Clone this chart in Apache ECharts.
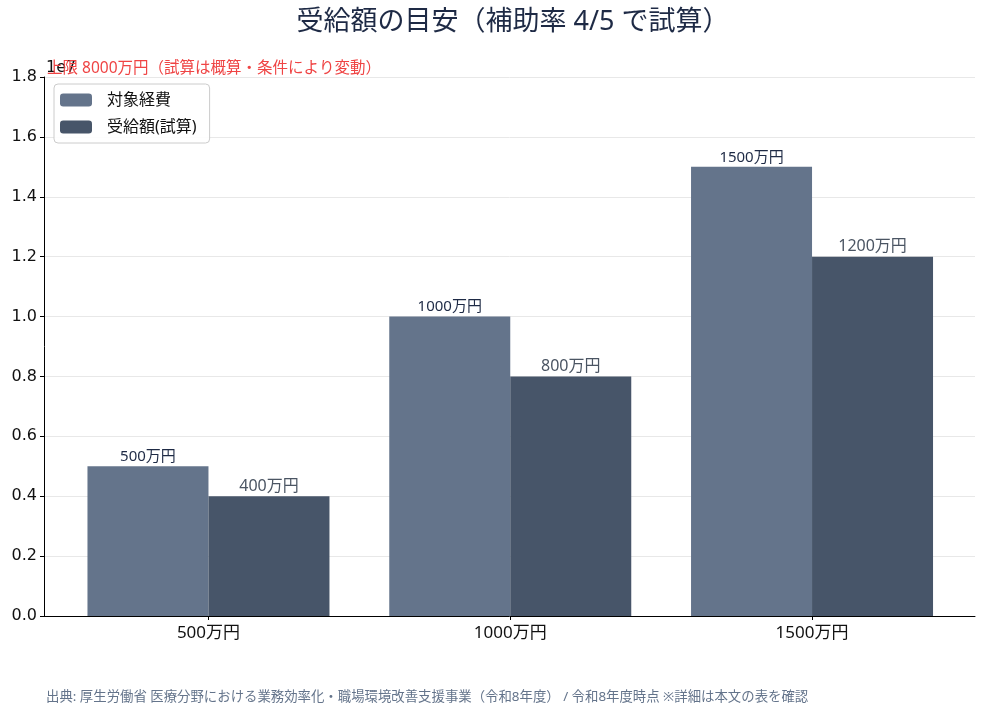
<!DOCTYPE html>
<html style="height: 100%">
<head>
    <meta charset="utf-8">
</head>
<body style="height: 100%; margin: 0">
<div id="container" style="width: 985px; height: 715px"></div>

<script type="text/javascript" src="https://cdn.jsdelivr.net/npm/echarts@6/dist/echarts.min.js"></script>

<script type="text/javascript">
    // data
    var categories = ['500万円', '1000万円', '1500万円'];
    var costValues = [5000000, 10000000, 15000000];      // 対象経費
    var grantValues = [4000000, 8000000, 12000000];      // 受給額(試算)
    var seriesNames = ['対象経費', '受給額(試算)'];

    var FONT = '"Noto Sans", "Noto Sans CJK JP", sans-serif';

    var dom = document.getElementById('container');
    var myChart = echarts.init(dom);

    function toPoints(vals) {
        return vals.map(function (v, i) { return [i, v]; });
    }
    function man(v) {
        return Math.round(v / 10000) + '万円';
    }

    var option = {
        backgroundColor: '#ffffff',
        animation: false,
        title: {
            text: '受給額の目安（補助率 4/5 で試算）',
            left: 508,
            textAlign: 'center',
            top: 4,
            textStyle: { fontFamily: FONT, fontSize: 27, fontWeight: 'normal', color: '#1e2a45' }
        },
        legend: {
            orient: 'vertical',
            left: 54,
            top: 84,
            data: seriesNames,
            itemWidth: 32,
            itemHeight: 13,
            itemGap: 11,
            padding: [8, 13, 8, 6],
            borderColor: '#cccccc',
            borderWidth: 1,
            borderRadius: 4,
            backgroundColor: 'rgba(255,255,255,0.9)',
            textStyle: { fontFamily: FONT, fontSize: 16, color: '#111111', padding: [0, 0, 0, 10] }
        },
        grid: { left: 44, right: 10, top: 77, bottom: 99 },
        xAxis: {
            type: 'value',
            min: -0.545,
            max: 2.54,
            splitLine: { show: false },
            axisLine: { show: true, onZero: false, lineStyle: { color: '#000000', width: 1 } },
            axisTick: { show: true, customValues: [0, 1, 2], length: 4, lineStyle: { color: '#000000' } },
            axisLabel: {
                customValues: [0, 1, 2],
                formatter: function (v) { return categories[Math.round(v)]; },
                fontFamily: FONT, fontSize: 17, color: '#111111', margin: 9
            }
        },
        yAxis: {
            type: 'value',
            min: 0,
            max: 18000000,
            interval: 2000000,
            axisLine: { show: true, onZero: false, lineStyle: { color: '#000000', width: 1 } },
            axisTick: { show: true, length: 4, lineStyle: { color: '#000000' } },
            axisLabel: {
                formatter: function (v) { return (v / 10000000).toFixed(1); },
                fontFamily: '"DejaVu Sans", sans-serif', fontSize: 16, color: '#111111', margin: 7
            },
            splitLine: { show: true, lineStyle: { color: '#e8e8e8', width: 1 } }
        },
        graphic: [
            {
                type: 'text', left: 46, top: 60,
                style: { text: '1e7', fontFamily: '"DejaVu Sans", sans-serif', fontSize: 16, fill: '#111111' }
            },
            {
                type: 'text', left: 47, top: 61, z: 10,
                style: { text: '上限 8000万円（試算は概算・条件により変動）', fontFamily: FONT, fontSize: 15.5, fill: '#ef4444' }
            },
            {
                type: 'text', left: 46, top: 690,
                style: {
                    text: '出典: 厚生労働省 医療分野における業務効率化・職場環境改善支援事業（令和8年度） / 令和8年度時点 ※詳細は本文の表を確認',
                    fontFamily: FONT, fontSize: 13.4, fill: '#64748b'
                }
            }
        ],
        series: [
            {
                name: seriesNames[0],
                type: 'bar',
                data: toPoints(costValues),
                barWidth: 121,
                barGap: '0%',
                itemStyle: { color: '#64748b' },
                label: {
                    show: true, position: 'top', distance: 2,
                    formatter: function (p) { return man(p.value[1]); },
                    fontFamily: FONT, fontSize: 15, color: '#1e2a45'
                }
            },
            {
                name: seriesNames[1],
                type: 'bar',
                data: toPoints(grantValues),
                barWidth: 121,
                barGap: '0%',
                itemStyle: { color: '#475569' },
                label: {
                    show: true, position: 'top', distance: 2,
                    formatter: function (p) { return man(p.value[1]); },
                    fontFamily: FONT, fontSize: 16, color: '#4b5563'
                }
            }
        ]
    };

    myChart.setOption(option);
</script>
</body>
</html>
